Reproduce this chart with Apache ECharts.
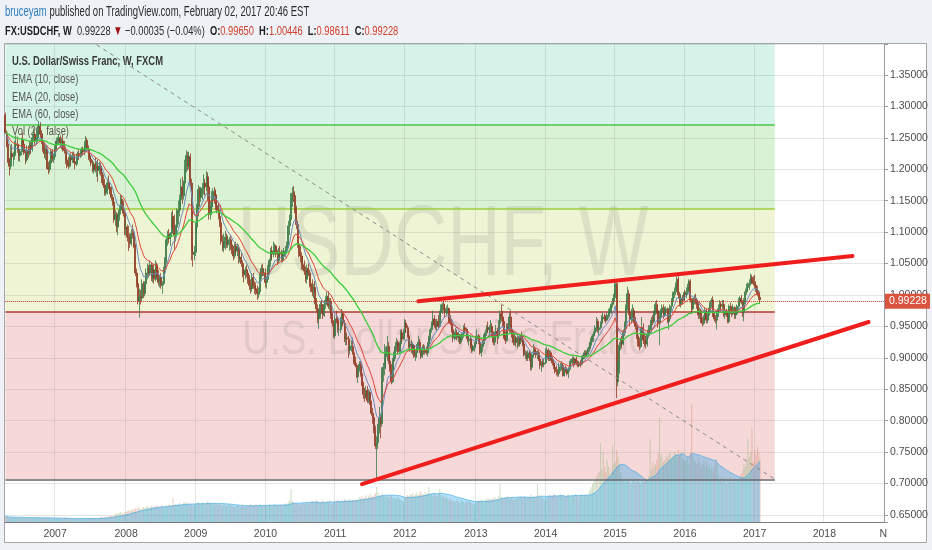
<!DOCTYPE html>
<html><head><meta charset="utf-8">
<script src="https://cdn.jsdelivr.net/npm/echarts@6/dist/echarts.min.js"></script>
<style>html,body{margin:0;padding:0;background:#eef1f5}#c{width:932px;height:550px}</style>
</head><body><div id="c"></div>
<script>
// ---- DATA (weekly candles, [open, high, low, close] in thousandths of CHF) ----
const y2006 = [[1286,1290,1256,1258],[1258,1262,1235,1240],[1240,1244,1210,1213],[1213,1218,1190,1205],[1205,1238,1200,1225],[1225,1240,1215,1220],[1220,1228,1205,1222],[1222,1245,1215,1238],[1238,1254,1228,1240],[1240,1252,1226,1232],[1232,1238,1213,1222],[1222,1232,1212,1228],[1228,1250,1222,1245],[1245,1258,1236,1240],[1240,1247,1223,1226],[1226,1232,1208,1215],[1215,1238,1212,1230],[1230,1238,1218,1225],[1225,1245,1222,1238],[1238,1246,1225,1232],[1232,1255,1228,1250],[1250,1265,1243,1255],[1255,1260,1238,1245],[1245,1258,1240,1250],[1250,1268,1245,1262],[1262,1277,1255,1268],[1268,1275,1250,1256],[1256,1262,1240,1245],[1245,1252,1228,1232],[1232,1240,1218,1225],[1225,1238,1215,1232],[1232,1236,1200,1205],[1205,1212,1192,1200],[1200,1215,1195,1210],[1210,1232,1205,1228],[1228,1232,1212,1218],[1218,1225,1210,1220]];
const y2007 = [[1220,1238,1215,1232],[1232,1250,1228,1245],[1245,1252,1238,1246],[1246,1256,1240,1250],[1250,1254,1235,1242],[1242,1250,1232,1245],[1245,1255,1228,1232],[1232,1245,1225,1230],[1230,1236,1208,1215],[1215,1222,1202,1212],[1212,1220,1200,1205],[1205,1225,1203,1218],[1218,1225,1208,1215],[1215,1228,1210,1222],[1222,1228,1210,1212],[1212,1220,1200,1208],[1208,1225,1205,1218],[1218,1228,1212,1225],[1225,1232,1215,1222],[1222,1232,1218,1228],[1228,1235,1220,1232],[1232,1236,1222,1228],[1228,1245,1222,1240],[1240,1253,1232,1246],[1246,1250,1228,1232],[1232,1238,1215,1220],[1220,1226,1212,1216],[1216,1222,1205,1210],[1210,1215,1195,1198],[1198,1212,1193,1208],[1208,1218,1195,1200],[1200,1212,1188,1205],[1205,1215,1180,1198],[1198,1212,1192,1205],[1205,1210,1190,1195],[1195,1205,1178,1182],[1182,1192,1170,1175],[1175,1185,1158,1162],[1162,1172,1158,1165],[1165,1185,1160,1178],[1178,1190,1168,1172],[1172,1178,1160,1165],[1165,1172,1150,1155],[1155,1160,1142,1148],[1148,1152,1115,1120],[1120,1135,1110,1128],[1128,1132,1100,1108],[1108,1130,1095,1125],[1125,1142,1118,1135],[1135,1160,1128,1152],[1152,1158,1140,1145],[1145,1150,1125,1130],[1130,1135,1095,1105]];
const y2008 = [[1105,1118,1095,1108],[1108,1112,1085,1092],[1092,1110,1070,1090],[1090,1098,1075,1082],[1082,1105,1078,1098],[1098,1112,1090,1095],[1095,1102,1075,1078],[1078,1082,1030,1035],[1035,1042,1012,1018],[1018,1025,985,990],[990,1010,964,998],[998,1008,985,995],[995,1025,990,1018],[1018,1022,995,1002],[1002,1022,998,1018],[1018,1042,1012,1035],[1035,1050,1025,1042],[1042,1048,1028,1035],[1035,1055,1030,1048],[1048,1052,1022,1028],[1028,1045,1020,1040],[1040,1048,1018,1025],[1025,1055,1022,1048],[1048,1052,1028,1032],[1032,1040,1015,1020],[1020,1032,1012,1028],[1028,1035,1010,1015],[1015,1022,1002,1018],[1018,1045,1015,1040],[1040,1060,1035,1055],[1055,1092,1050,1088],[1088,1102,1078,1095],[1095,1105,1082,1090],[1090,1100,1078,1098],[1098,1132,1092,1125],[1125,1135,1105,1110],[1110,1128,1072,1095],[1095,1112,1085,1108],[1108,1138,1100,1132],[1132,1150,1112,1135],[1135,1160,1125,1152],[1152,1185,1140,1172],[1172,1188,1145,1158],[1158,1182,1152,1178],[1178,1215,1170,1205],[1205,1230,1195,1222],[1222,1228,1198,1205],[1205,1228,1200,1220],[1220,1225,1172,1178],[1178,1185,1055,1068],[1068,1082,1045,1065],[1065,1078,1055,1068]];
const y2009 = [[1068,1115,1062,1108],[1108,1145,1100,1138],[1138,1175,1125,1168],[1168,1172,1140,1155],[1155,1172,1148,1162],[1162,1178,1152,1170],[1170,1192,1160,1178],[1178,1185,1158,1172],[1172,1197,1165,1188],[1188,1195,1150,1172],[1172,1178,1120,1128],[1128,1150,1120,1140],[1140,1165,1135,1152],[1152,1170,1140,1165],[1165,1172,1145,1158],[1158,1168,1135,1142],[1142,1160,1130,1135],[1135,1145,1120,1125],[1125,1132,1108,1115],[1115,1120,1080,1085],[1085,1095,1070,1075],[1075,1098,1068,1082],[1082,1102,1072,1092],[1092,1098,1075,1080],[1080,1095,1075,1085],[1085,1092,1070,1088],[1088,1095,1072,1080],[1080,1085,1065,1070],[1070,1078,1055,1062],[1062,1082,1058,1078],[1078,1085,1065,1070],[1070,1082,1062,1075],[1075,1080,1050,1058],[1058,1068,1052,1060],[1060,1068,1045,1050],[1050,1055,1028,1035],[1035,1040,1020,1032],[1032,1045,1025,1040],[1040,1048,1028,1035],[1035,1040,1018,1025],[1025,1032,1008,1015],[1015,1025,1002,1010],[1010,1035,1005,1028],[1028,1035,1010,1015],[1015,1022,1002,1010],[1010,1020,1000,1008],[1008,1015,992,1002],[1002,1012,995,1005],[1005,1035,1000,1030],[1030,1048,1025,1042],[1042,1050,1030,1035],[1035,1042,1030,1035]];
const y2010 = [[1035,1042,1012,1020],[1020,1030,1010,1025],[1025,1048,1020,1042],[1042,1058,1035,1055],[1055,1075,1045,1070],[1070,1078,1058,1065],[1065,1085,1060,1072],[1072,1082,1065,1078],[1078,1080,1060,1065],[1065,1072,1048,1055],[1055,1075,1050,1068],[1068,1078,1060,1065],[1065,1072,1052,1058],[1058,1070,1052,1062],[1062,1075,1055,1070],[1070,1078,1060,1072],[1072,1085,1065,1080],[1080,1118,1075,1110],[1110,1128,1095,1120],[1120,1162,1118,1150],[1150,1172,1140,1162],[1162,1173,1148,1158],[1158,1165,1130,1135],[1135,1142,1105,1112],[1112,1118,1075,1080],[1080,1085,1060,1068],[1068,1078,1052,1062],[1062,1068,1040,1048],[1048,1062,1040,1045],[1045,1055,1032,1038],[1038,1045,1020,1025],[1025,1048,1018,1042],[1042,1050,1030,1035],[1035,1040,1012,1018],[1018,1028,1005,1015],[1015,1025,998,1005],[1005,1018,995,1012],[1012,1022,985,990],[990,995,972,978],[978,985,955,962],[962,975,946,968],[968,990,962,985],[985,992,970,975],[975,985,962,968],[968,992,965,985],[985,998,978,992],[992,1005,985,998],[998,1006,978,982],[982,995,975,990],[990,995,962,968],[968,972,950,955],[955,960,932,935]];
const y2011 = [[935,968,930,962],[962,975,955,960],[960,965,940,945],[945,952,935,945],[945,965,940,955],[955,978,950,970],[970,975,950,955],[955,960,925,930],[930,938,920,932],[932,940,920,930],[930,935,900,912],[912,922,905,918],[918,928,910,918],[918,932,905,908],[908,912,890,895],[895,902,885,888],[888,892,868,870],[870,885,860,882],[882,895,878,890],[890,895,870,875],[875,880,855,858],[858,862,835,842],[842,852,830,838],[838,855,835,848],[848,855,828,832],[832,850,828,845],[845,848,825,828],[828,832,808,812],[812,820,795,805],[805,808,780,785],[785,792,755,760],[760,775,707,765],[765,795,755,790],[790,822,780,805],[805,810,772,795],[795,885,790,878],[878,892,862,885],[885,922,872,902],[902,918,882,906],[906,935,895,918],[918,925,890,895],[895,905,878,885],[885,890,858,862],[862,900,860,895],[895,910,882,905],[905,925,898,918],[918,932,910,925],[925,928,905,910],[910,925,908,922],[922,945,918,940],[940,945,925,930],[930,945,928,940]];
const y2012 = [[940,962,935,955],[955,960,940,948],[948,952,932,935],[935,938,915,918],[918,928,910,922],[922,928,908,912],[912,925,905,920],[920,922,900,902],[902,912,895,908],[908,922,900,918],[918,935,912,925],[925,930,908,912],[912,918,898,902],[902,920,900,915],[915,922,905,910],[910,920,905,912],[912,918,905,908],[908,925,902,922],[922,935,918,932],[932,948,928,945],[945,958,940,955],[955,975,950,962],[962,968,948,952],[952,962,945,950],[950,962,942,958],[958,968,945,950],[950,975,948,972],[972,985,965,978],[978,988,970,985],[985,997,975,978],[978,985,965,972],[972,982,968,975],[975,985,970,978],[978,980,955,958],[958,968,952,955],[955,962,940,945],[945,948,925,932],[932,942,928,938],[938,948,930,940],[940,945,928,932],[932,942,925,935],[935,938,922,925],[925,938,922,935],[935,940,928,938],[938,952,932,948],[948,955,940,945],[945,948,930,932],[932,935,925,928],[928,935,920,930],[930,935,915,920],[920,925,908,912],[912,920,910,918],[918,925,910,922]];
const y2013 = [[922,935,915,930],[930,945,925,935],[935,938,922,925],[925,928,905,908],[908,922,902,918],[918,928,910,922],[922,938,918,935],[935,945,928,940],[940,952,935,948],[948,958,940,945],[945,952,935,948],[948,960,940,950],[950,955,935,938],[938,942,920,925],[925,942,920,938],[938,952,932,942],[942,948,922,935],[935,960,930,955],[955,975,950,970],[970,984,958,965],[965,975,950,958],[958,962,930,935],[935,942,922,928],[928,955,925,950],[950,955,938,945],[945,972,940,965],[965,975,940,945],[945,952,932,935],[935,942,920,925],[925,938,920,932],[932,935,918,925],[925,935,915,930],[930,935,918,922],[922,938,918,935],[935,942,925,930],[930,935,918,922],[922,928,902,905],[905,912,898,905],[905,910,895,900],[900,912,895,908],[908,912,895,898],[898,902,880,885],[885,908,880,905],[905,922,900,912],[912,918,905,910],[910,915,900,905],[905,912,898,908],[908,912,895,898],[898,902,882,888],[888,895,878,892],[892,898,885,890],[890,898,885,892]];
const y2014 = [[892,915,890,905],[905,918,900,912],[912,915,895,898],[898,912,895,908],[908,912,895,898],[898,902,888,892],[892,898,882,885],[885,892,875,880],[880,888,872,878],[878,882,870,875],[875,892,870,885],[885,892,878,885],[885,895,880,888],[888,892,870,872],[872,885,870,882],[882,888,876,880],[880,885,872,875],[875,885,868,882],[882,895,878,892],[892,898,885,895],[895,902,890,898],[898,902,885,892],[892,900,888,898],[898,902,888,892],[892,896,885,888],[888,895,885,892],[892,896,885,890],[890,902,888,898],[898,905,895,902],[902,912,898,908],[908,912,900,905],[905,912,902,908],[908,918,905,915],[915,925,910,920],[920,932,915,928],[928,938,925,935],[935,942,925,940],[940,952,935,948],[948,965,942,958],[958,962,940,945],[945,952,935,948],[948,958,945,955],[955,968,950,962],[962,972,958,965],[965,970,958,962],[962,968,955,960],[960,972,958,968],[968,978,962,972],[972,980,965,975],[975,988,970,985],[985,995,980,990],[990,1002,988,998]];
const y2015 = [[998,1020,995,1018],[1018,1024,836,862],[862,895,855,882],[882,925,875,920],[920,932,912,928],[928,935,915,922],[922,945,920,940],[940,958,935,955],[955,985,950,980],[980,1013,975,1002],[1002,1008,968,972],[972,975,950,962],[962,978,955,965],[965,985,958,975],[975,980,955,958],[958,965,945,950],[950,958,930,935],[935,940,918,925],[925,932,912,918],[918,948,915,945],[945,965,938,948],[948,955,922,928],[928,940,918,925],[925,935,915,922],[922,945,918,938],[938,952,932,945],[945,952,935,945],[945,965,940,960],[960,968,952,958],[958,975,955,972],[972,990,968,985],[985,992,970,975],[975,982,948,955],[955,975,920,965],[965,978,960,972],[972,985,968,980],[980,985,962,968],[968,980,965,975],[975,982,970,978],[978,980,955,958],[958,968,945,962],[962,985,958,982],[982,995,975,990],[990,1005,985,1002],[1002,1012,995,1005],[1005,1020,1000,1015],[1015,1032,1010,1025],[1025,1030,995,1000],[1000,1005,982,985],[985,1002,980,995],[995,1000,985,992],[992,1005,990,1002]];
const y2016 = [[1002,1008,990,1000],[1000,1012,995,1005],[1005,1018,1000,1012],[1012,1025,1008,1022],[1022,1025,988,992],[992,995,970,978],[978,995,975,990],[990,1000,985,995],[995,1002,985,990],[990,995,978,985],[985,988,962,968],[968,980,962,975],[975,978,955,958],[958,965,950,955],[955,968,952,962],[962,980,958,975],[975,978,955,960],[960,972,955,968],[968,980,965,975],[975,992,972,988],[988,995,980,992],[992,998,965,968],[968,972,958,962],[962,968,955,960],[960,975,945,968],[968,985,965,978],[978,992,972,985],[985,990,975,982],[982,992,978,985],[985,992,965,968],[968,980,962,975],[975,978,965,968],[968,972,955,958],[958,985,955,982],[982,988,970,975],[975,982,965,970],[970,985,968,980],[980,982,962,968],[968,975,962,970],[970,985,968,982],[982,995,978,988],[988,998,985,995],[995,1000,985,990],[990,992,965,972],[972,995,958,990],[990,1010,985,1005],[1005,1018,1000,1012],[1012,1020,1005,1015],[1015,1025,1008,1018],[1018,1034,1015,1028],[1028,1032,1018,1022],[1022,1030,1015,1018]];
const y2017 = [[1018,1032,1010,1015],[1015,1022,1005,1010],[1010,1015,998,1002],[1002,1008,992,997],[996.5,1004.46,986.11,992.28]];

// weekly volume (relative units)
const v2006 = [6,5,5,4,5,5,4,5,4,4,5,4,4,5,4,4,4,4,4,5,4,4,4,5,4,5,4,4,4,4,5,4,4,4,3,3,3];
const v2007 = [3,4,4,3,4,3,4,4,5,4,3,3,4,3,3,4,3,3,3,4,3,3,3,4,3,4,4,3,4,4,4,3,4,4,5,5,4,5,6,5,6,6,7,6,7,8,9,8,9,10,9,8,10];
const v2008 = [10,11,12,11,12,13,12,14,13,15,14,13,14,15,14,15,16,14,15,16,15,16,15,17,16,15,16,17,15,16,17,16,18,17,16,24,17,18,17,18,19,17,18,19,20,18,19,18,17,18,16,17];
const v2009 = [18,19,20,18,19,20,19,18,20,21,19,18,19,18,17,19,18,17,18,17,16,18,17,16,17,18,16,17,16,15,16,17,16,15,16,17,16,15,16,17,16,18,17,16,17,18,16,17,18,17,16,17];
const v2010 = [16,17,16,18,17,16,17,18,17,16,17,18,17,16,18,19,18,20,22,33,21,20,19,18,19,18,17,18,19,18,19,20,18,19,20,21,19,20,22,21,20,19,22,21,20,19,21,20,22,18,19,20];
const v2011 = [20,21,22,21,20,22,21,23,22,21,22,23,21,22,21,22,23,22,25,24,26,23,25,27,24,26,28,25,26,27,29,35,30,27,26,29,27,26,25,26,24,25,26,24,25,23,24,25,23,22,21,20];
const v2012 = [24,25,27,26,28,27,29,26,28,30,27,29,31,28,27,30,28,29,35,27,28,26,29,27,26,28,33,27,25,26,24,25,23,22,24,21,22,20,21,23,20,19,22,21,20,19,21,20,22,20,19,18,17];
const v2013 = [20,21,22,21,23,22,21,23,22,24,23,22,24,23,25,24,23,26,38,25,24,23,25,24,26,23,24,25,22,24,23,25,24,26,25,24,26,25,24,26,25,27,24,26,25,26,38,27,25,26,24,22];
const v2014 = [24,25,26,27,25,26,28,27,25,26,27,28,26,27,25,26,27,28,26,25,27,26,28,27,26,25,27,28,26,27,28,26,29,32,35,38,40,42,45,48,50,79,52,70,55,50,62,55,48,52,77,58];
const v2015 = [60,72,65,58,50,45,42,40,44,41,43,40,38,42,44,39,41,43,40,38,42,40,44,41,43,46,83,52,60,55,58,62,70,104,68,65,60,62,66,64,68,70,63,66,70,68,65,72,66,70,64,62];
const v2016 = [60,62,65,58,70,118,66,62,60,58,64,60,55,58,62,56,60,54,58,52,55,50,56,62,58,48,42,45,40,44,42,38,43,41,45,40,42,44,40,43,41,45,48,52,58,55,62,83,65,70,94,60];
const v2017 = [72,68,75,70,62];

// axis / drawing values
const firstWeek = '2006-04-17';
const weekCount = 656;
const lastClose = 0.99228;
const fibLevels = [0.7067, 0.9734, 1.1368, 1.2705];
const priceMin = 0.63886, priceMax = 1.3993;
const zoneEnd = '2017-04-17';
const upperTrend = [['2012-03-12', 0.990], ['2018-05-28', 1.062]];
const lowerTrend = [['2011-05-23', 0.699], ['2018-08-20', 0.957]];
const dashedTrend = [['2007-08-06', 1.398], ['2017-04-17', 0.707]];

// ---- build ----
const cats = [];
{ const d0 = Date.parse(firstWeek + 'T00:00:00Z'); for (let i = 0; i < weekCount; i++) cats.push(new Date(d0 + i * 7 * 864e5).toISOString().slice(0, 10)); }
const quads = [].concat(y2006, y2007, y2008, y2009, y2010, y2011, y2012, y2013, y2014, y2015, y2016, y2017).map(q => q.map(v => v / 1000));
const candles = quads.map(q => [q[0], q[3], q[2], q[1]]);
const closes = quads.map(q => q[3]);
const vols = [].concat(v2006, v2007, v2008, v2009, v2010, v2011, v2012, v2013, v2014, v2015, v2016, v2017);
function ema(src, n) { const k = 2 / (n + 1); let e = src[0]; return src.map((v, i) => { e = i ? v * k + e * (1 - k) : v; return +e.toFixed(5); }); }
function sma(src, n) { return src.map((v, i) => { const s = src.slice(Math.max(0, i - n + 1), i + 1); return s.reduce((a, b) => a + b, 0) / s.length; }); }
const volMA = sma(vols, 20);

const FONT = 'Liberation Sans';
const isYearStart = v => v.slice(5, 7) === '01' && +v.slice(8, 10) <= 7;
const upC = '#3a7848', downC = '#8f3b24';

const chart = echarts.init(document.getElementById('c'), null, { renderer: 'canvas' });
const gridL = 4.8, gridR = 48;
const zoneStyles = ['#f6d8d8', '#eff4d5', '#d9f2d3', '#d5f3e8'];
const fibLineColors = ['#666666', '#b13a35', '#9ccc3a', '#4cc44c'];
const zoneTops = [fibLevels[1], fibLevels[2], fibLevels[3], priceMax];
const txt = (x, y, text, font, fill, sx) => ({ type: 'text', z: 1, x, y, scaleX: sx, style: { text, font, fill, textVerticalAlign: 'middle', verticalAlign: 'middle' } });

chart.setOption({
  animation: false,
  backgroundColor: '#eef1f5',
  grid: [
    { left: gridL, right: gridR, top: 44, bottom: 28 },
    { left: gridL, right: gridR, top: 372, bottom: 28 }
  ],
  xAxis: [
    { type: 'category', data: cats, gridIndex: 0, boundaryGap: true, z: 1,
      axisLine: { lineStyle: { color: '#7a7a7a' } }, axisTick: { show: false },
      axisLabel: { interval: (i, v) => isYearStart(v) || i === weekCount - 1,
        formatter: (v, i) => isYearStart(v) ? v.slice(0, 4) : 'N',
        color: '#4d4d4d', fontFamily: FONT, fontSize: 10.5, margin: 7 },
      splitLine: { show: true, interval: (i, v) => isYearStart(v), lineStyle: { color: 'rgba(150,150,150,0.25)' } } },
    { type: 'category', data: cats, gridIndex: 1, boundaryGap: true, show: false }
  ],
  yAxis: [
    { type: 'value', gridIndex: 0, position: 'right', min: priceMin, max: priceMax, splitNumber: 15, z: 1,
      axisLine: { show: true, lineStyle: { color: '#999' } },
      axisTick: { show: true, length: 4, lineStyle: { color: '#999' } },
      axisLabel: { color: '#4d4d4d', fontFamily: FONT, fontSize: 10.5, margin: 6,
        formatter: v => Math.abs(v / 0.05 - Math.round(v / 0.05)) < 1e-6 ? v.toFixed(5) : '' },
      splitLine: { show: true, lineStyle: { color: 'rgba(150,150,150,0.25)' } } },
    { type: 'value', gridIndex: 1, min: 0, max: 150, show: false, splitLine: { show: false } }
  ],
  series: [
    { name: 'Vol', type: 'bar', xAxisIndex: 1, yAxisIndex: 1, data: vols, barWidth: '80%', z: 1.5,
      itemStyle: { color: p => closes[p.dataIndex] >= quads[p.dataIndex][0] ? 'rgba(140,180,120,0.4)' : 'rgba(215,135,110,0.4)' } },
    { name: 'Vol MA', type: 'line', xAxisIndex: 1, yAxisIndex: 1, data: volMA, showSymbol: false, z: 1.6,
      lineStyle: { color: 'rgba(40,160,230,0.55)', width: 1 }, areaStyle: { color: 'rgba(40,165,235,0.5)' } },
    { name: 'USDCHF', type: 'candlestick', data: candles, barWidth: 1.5, z: 2,
      itemStyle: { color: upC, color0: downC, borderColor: upC, borderColor0: downC, borderWidth: 0.8 },
      markLine: { z: 5, silent: true, symbol: ['none', 'none'],
        lineStyle: { color: '#c0392b', type: 'dotted', width: 1 },
        label: { position: 'end', distance: 1, formatter: lastClose.toFixed(5), color: '#fff', backgroundColor: '#d9533f',
          padding: [2, 3, 2, 4], fontFamily: FONT, fontSize: 10.5 },
        data: [{ yAxis: lastClose }] } },
    { name: 'EMA 10', type: 'line', data: ema(closes, 10), showSymbol: false, z: 3, lineStyle: { color: '#6a8cbf', width: 1 } },
    { name: 'EMA 20', type: 'line', data: ema(closes, 20), showSymbol: false, z: 3, lineStyle: { color: '#e0433a', width: 1 } },
    { name: 'EMA 60', type: 'line', data: ema(closes, 60), showSymbol: false, z: 3, lineStyle: { color: '#3ccc3c', width: 1.3 },
      markArea: { z: 0, silent: true,
        data: fibLevels.map((lv, k) => [{ xAxis: cats[0], yAxis: lv, itemStyle: { color: zoneStyles[k] } }, { xAxis: zoneEnd, yAxis: zoneTops[k] }]) },
      markLine: { z: 1.8, silent: true, symbol: ['none', 'none'], label: { show: false },
        data: fibLevels.map((lv, k) => [{ coord: [cats[0], lv], lineStyle: { color: fibLineColors[k], width: 1.5, type: 'solid' } }, { coord: [zoneEnd, lv] }]) } },
    { name: 'dash', type: 'line', data: dashedTrend, showSymbol: false, z: 3.5, lineStyle: { color: '#8a8a8a', width: 1, type: [4, 4] } },
    { name: 'upper', type: 'line', data: upperTrend, showSymbol: false, z: 4, lineStyle: { color: '#f01d1d', width: 4, cap: 'round' } },
    { name: 'lower', type: 'line', data: lowerTrend, showSymbol: false, z: 4, lineStyle: { color: '#f01d1d', width: 4, cap: 'round' } }
  ],
  graphic: [
    { type: 'rect', z: -1, shape: { x: 4.5, y: 43.5, width: 922, height: 499 }, style: { fill: '#ffffff', stroke: '#a5a5a5', lineWidth: 1 } },
    { type: 'text', z: 0.5, x: 443, y: 247, scaleX: 0.74, style: { text: 'USDCHF, W', font: '100px ' + FONT, fill: 'rgba(60,60,60,0.10)', textAlign: 'center', textVerticalAlign: 'middle', align: 'center', verticalAlign: 'middle' } },
    { type: 'text', z: 0.5, x: 445, y: 341, scaleX: 0.8, style: { text: 'U.S. Dollar/Swiss Franc', font: '48px ' + FONT, fill: 'rgba(60,60,60,0.10)', textAlign: 'center', textVerticalAlign: 'middle', align: 'center', verticalAlign: 'middle' } },
    txt(12, 62, 'U.S. Dollar/Swiss Franc, W, FXCM', '600 12.5px ' + FONT, '#3a3a3a', 0.755),
    txt(12, 80, 'EMA (10, close)', '12.5px ' + FONT, '#555', 0.745),
    txt(12, 98, 'EMA (20, close)', '12.5px ' + FONT, '#555', 0.745),
    txt(12, 115, 'EMA (60, close)', '12.5px ' + FONT, '#555', 0.745),
    txt(12, 132, 'Vol (20, false)', '12.5px ' + FONT, '#555', 0.745),
    { type: 'text', z: 10, x: 5, y: 12.5, scaleX: 0.68, style: { text: '{u|bruceyam}{t| published on TradingView.com, February 02, 2017 20:46 EST}', textVerticalAlign: 'middle', verticalAlign: 'middle',
      rich: { u: { fill: '#2d7cc0', fontSize: 14, fontFamily: FONT }, t: { fill: '#2b2b2b', fontSize: 14, fontFamily: FONT } } } },
    { type: 'text', z: 10, x: 5, y: 31.5, scaleX: 0.69, style: { text: '{b|FX:USDCHF, W}{n|  0.99228 }{r|▼}{n| −0.00035 (−0.04%)  }{b|O:}{v|0.99650}{n|  }{b|H:}{v|1.00446}{n|  }{b|L:}{v|0.98611}{n|  }{b|C:}{v|0.99228}', textVerticalAlign: 'middle', verticalAlign: 'middle',
      rich: { b: { fill: '#1f1f1f', fontSize: 13.5, fontWeight: 'bold', fontFamily: FONT }, n: { fill: '#2b2b2b', fontSize: 13.5, fontFamily: FONT },
        r: { fill: '#a31515', fontSize: 13.5, fontFamily: FONT }, v: { fill: '#d0402c', fontSize: 13.5, fontFamily: FONT } } } }
  ]
});
</script></body></html>
